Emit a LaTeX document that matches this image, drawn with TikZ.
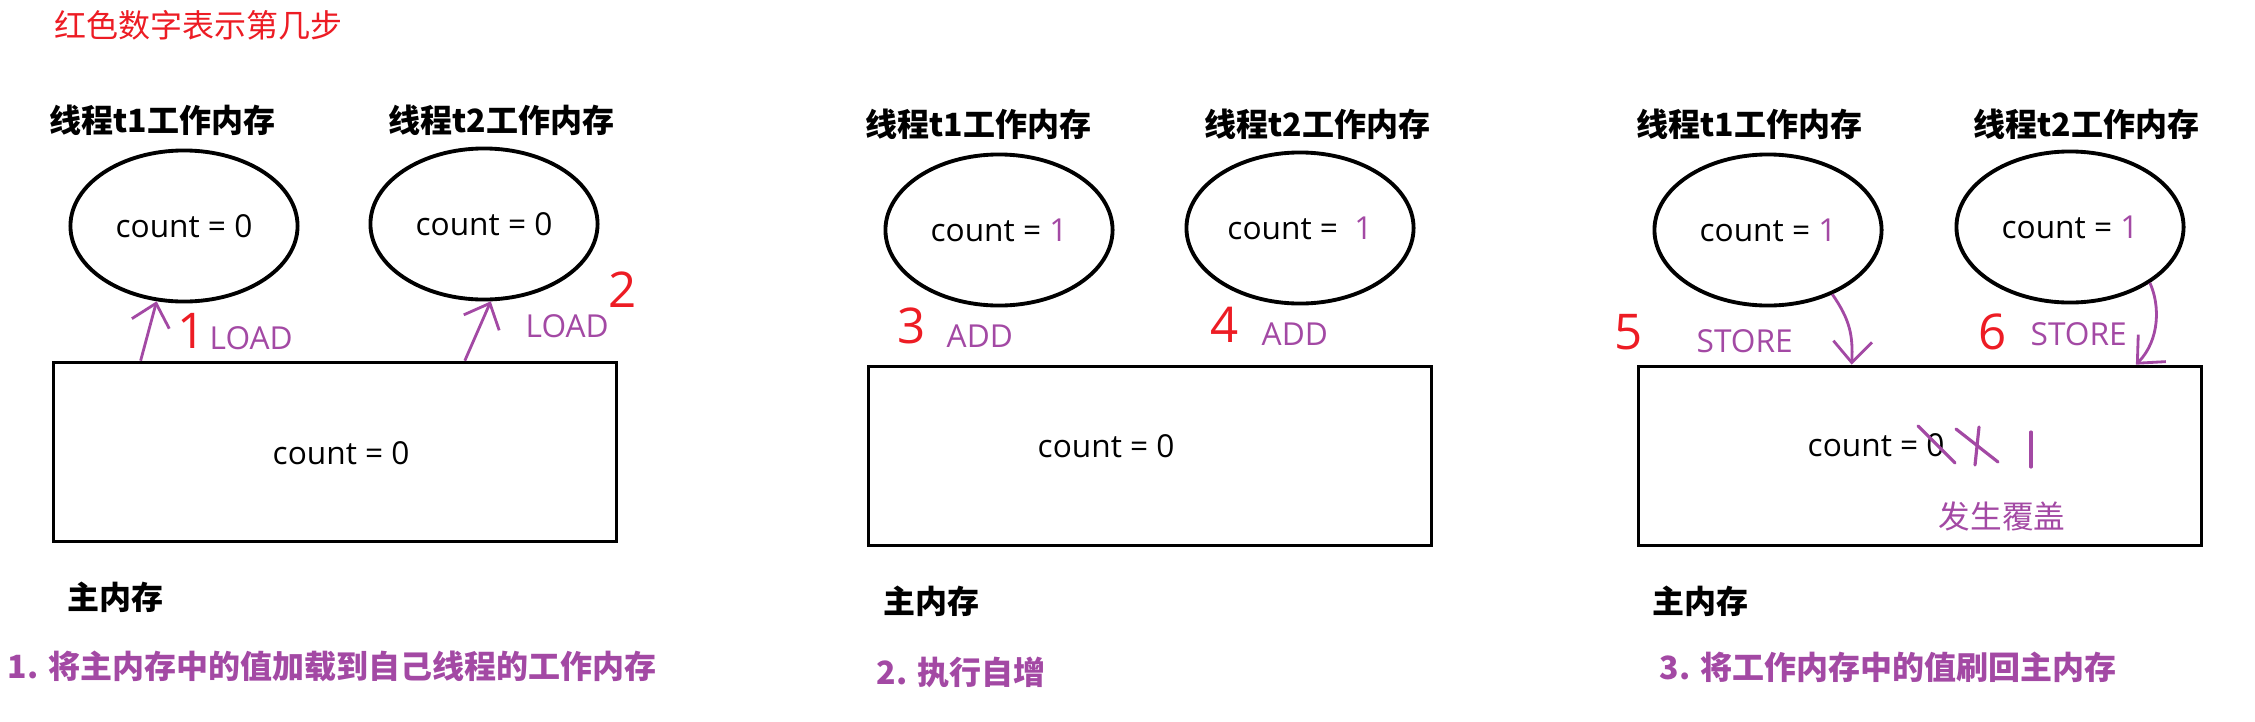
\documentclass[tikz,border=0pt]{standalone}
\usepackage{fontspec}
\setmainfont{Noto Sans CJK SC}
\newfontfamily\lat{Open Sans}
\usetikzlibrary{shapes.geometric,arrows.meta}
\definecolor{paint}{RGB}{163,73,164}
\definecolor{stepred}{RGB}{237,28,36}
\tikzset{
  mem/.style={ellipse,draw,line width=1.1pt,minimum width=2.27cm,minimum height=1.51cm,inner sep=0pt,font=\lat\fontsize{9}{9}\selectfont},
  mainmem/.style={draw,line width=1pt,minimum width=5.63cm,minimum height=1.79cm},
  val/.style={font=\lat\fontsize{9}{9}\selectfont,anchor=west,inner sep=0pt},
  op/.style={text=paint,font=\lat\fontsize{9}{9}\selectfont,anchor=west,inner sep=0pt},
  title/.style={font=\bfseries\fontsize{9.1}{9.1}\selectfont,anchor=west,inner sep=0pt},
  caption/.style={text=paint,font=\bfseries\fontsize{9.1}{9.1}\selectfont,anchor=west,inner sep=0pt},
  stepnum/.style={text=stepred,font=\lat\fontsize{14}{14}\selectfont,inner sep=0pt},
  hand/.style={draw=paint,line width=0.8pt,-{Straight Barb[length=6pt,width=11pt]}},
  scratch/.style={draw=paint,line width=0.9pt,line cap=round}
}
\begin{document}
\begin{tikzpicture}[x=0.01cm,y=-0.01cm]
    \fill[white] (0,0) rectangle (2255,721);
    \node[title,text=stepred,font=\fontsize{9.1}{9.1}\selectfont] (note) at (54,25) {红色数字表示第几步};

    % 1. load
    \node[title] (h11) at (49,120) {线程t1工作内存};
    \node[title] (h12) at (388,120) {线程t2工作内存};
    \node[mem] (e11) at (184,226) {count = 0};
    \node[mem] (e12) at (484,224) {count = 0};
    \node[mainmem] (m1) at (335,452) {};
    \node[val] (c1) at (272,453) {count = 0};
    \node[title] (l1) at (67,597) {主内存};
    \node[caption] (s1) at (7,666) {1. 将主内存中的值加载到自己线程的工作内存};
    \draw[hand] ([xshift=0.89cm]m1.north west) -- (e11.250);
    \draw[hand] ([xshift=4.13cm]m1.north west) -- (e12.275);
    \node[stepnum] (n1) at (192,331) {1};
    \node[op] (op11) at (209,338) {LOAD};
    \node[stepnum] (n2) at (623,290) {2};
    \node[op] (op12) at (525,326) {LOAD};

    % 2. add
    \node[title] (h21) at (865,124) {线程t1工作内存};
    \node[title] (h22) at (1204,124) {线程t2工作内存};
    \node[mem] (e21) at (999,230) {count = \textcolor{paint}{1}};
    \node[mem] (e22) at (1300,228) {count = \ \textcolor{paint}{1}};
    \node[mainmem] (m2) at (1150,456) {};
    \node[val] (c2) at (1037,446) {count = 0};
    \node[title] (l2) at (883,601) {主内存};
    \node[caption] (s2) at (876,672) {2. 执行自增};
    \node[stepnum] (n3) at (912,326) {3};
    \node[op] (op21) at (946,336) {ADD};
    \node[stepnum] (n4) at (1225,325) {4};
    \node[op] (op22) at (1261,334) {ADD};

    % 3. store
    \node[title] (h31) at (1636,124) {线程t1工作内存};
    \node[title] (h32) at (1973,124) {线程t2工作内存};
    \node[mem] (e31) at (1768,230) {count = \textcolor{paint}{1}};
    \node[mem] (e32) at (2070,227) {count = \textcolor{paint}{1}};
    \node[mainmem] (m3) at (1920,456) {};
    \node[val] (c3) at (1807,445) {count = 0};
    \node[title] (l3) at (1652,601) {主内存};
    \node[caption] (s3) at (1659,667) {3. 将工作内存中的值刷回主内存};
    \draw[hand] (e31.315) .. controls (1850,320) and (1853,335) .. ([xshift=2.15cm]m3.north west);
    \draw[hand] (e32.325) .. controls (2160,305) and (2160,340) .. ([xshift=4.99cm]m3.north west);
    \node[stepnum] (n5) at (1629,332) {5};
    \node[op] (op31) at (1696,341) {STORE};
    \node[stepnum] (n6) at (1993,332) {6};
    \node[op] (op32) at (2030,334) {STORE};
    \draw[scratch] (1918,426) -- (1955,463);
    \draw[scratch] (1956,429) -- (1998,462);
    \draw[scratch] (1979,427) -- (1975,465);
    \draw[scratch] (2031,432) -- (2031,467);
    \node[text=paint,font=\fontsize{9}{9}\selectfont,anchor=west,inner sep=0pt] (over) at (1938,516) {发生覆盖};
\end{tikzpicture}
\end{document}
